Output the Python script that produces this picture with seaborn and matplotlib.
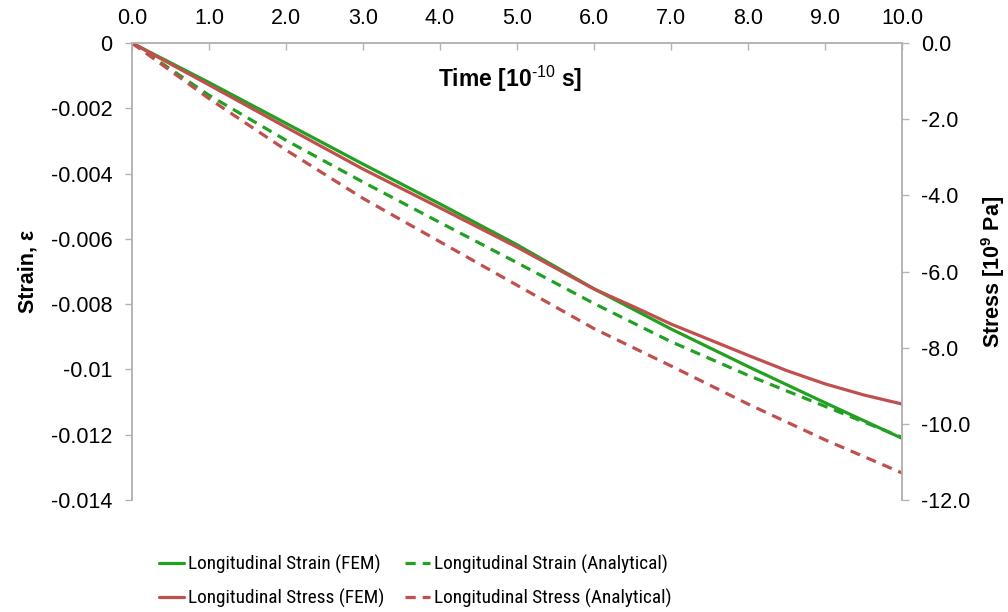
import numpy as np
import pandas as pd
import matplotlib
matplotlib.use("Agg")
import matplotlib.pyplot as plt
from matplotlib import font_manager
import seaborn as sns

# Time in units of 1e-10 s
time = [0, 1, 2, 3, 4, 5, 6, 7, 8, 9, 10]

# Longitudinal strain (left axis)
strain_fem = [0, -0.00121, -0.00246, -0.00371, -0.00493, -0.00618,
              -0.00753, -0.00876, -0.00991, -0.01102, -0.01211]
strain_analytical = [0, -0.00160, -0.00298, -0.00426, -0.00550, -0.00673,
                     -0.00798, -0.00915, -0.01018, -0.01113, -0.01208]

# Longitudinal stress in 1e9 Pa (right axis); the FEM curve is sampled
# more densely where it bends
time_fine = [0, 1, 2, 3, 4, 5, 6, 6.5, 7, 7.5, 8, 8.5, 9, 9.5, 10]
stress_fem = [0, -1.10, -2.21, -3.31, -4.33, -5.36,
              -6.46, -6.91, -7.38, -7.79, -8.20, -8.60, -8.95, -9.24, -9.48]
stress_analytical = [0, -1.46, -2.81, -4.08, -5.22, -6.36,
                     -7.50, -8.48, -9.48, -10.42, -11.29]

x_ticks = [0, 1, 2, 3, 4, 5, 6, 7, 8, 9, 10]
strain_ticks = [0, -0.002, -0.004, -0.006, -0.008, -0.010, -0.012, -0.014]
strain_tick_labels = ["0", "-0.002", "-0.004", "-0.006", "-0.008", "-0.01", "-0.012", "-0.014"]
stress_ticks = [0, -2, -4, -6, -8, -10, -12]

sns.set_theme(style="white")
plt.rcParams["font.family"] = ["Liberation Sans", "DejaVu Sans"]
plt.rcParams["mathtext.fontset"] = "custom"
plt.rcParams["mathtext.rm"] = "Liberation Sans"
plt.rcParams["mathtext.bf"] = "Liberation Sans:bold"
plt.rcParams["mathtext.default"] = "bf"
plt.rcParams["text.color"] = "black"
plt.rcParams["axes.labelcolor"] = "black"

GREEN = "#22a022"
RED = "#c0504d"
AXIS_GRAY = "#b4b4b4"
FS = 15.5

df = pd.DataFrame({
    "time": time,
    "strain_fem": strain_fem,
    "strain_analytical": strain_analytical,
    "stress_analytical": stress_analytical,
})
df_fem = pd.DataFrame({"time": time_fine, "stress_fem": stress_fem})

fig = plt.figure(figsize=(10.08, 6.12), dpi=100)
ax = fig.add_axes([132 / 1008, 1 - 500 / 612, 770 / 1008, 457 / 612])
ax2 = ax.twinx()

lw = 2.3
dash = (3.2, 2.2)
sns.lineplot(data=df, x="time", y="strain_fem", ax=ax, color=GREEN, lw=lw,
             label="Longitudinal Strain (FEM)", legend=False)
sns.lineplot(data=df, x="time", y="strain_analytical", ax=ax, color=GREEN, lw=lw,
             label="Longitudinal Strain (Analytical)", legend=False)
sns.lineplot(data=df_fem, x="time", y="stress_fem", ax=ax2, color=RED, lw=lw,
             label="Longitudinal Stress (FEM)", legend=False)
sns.lineplot(data=df, x="time", y="stress_analytical", ax=ax2, color=RED, lw=lw,
             label="Longitudinal Stress (Analytical)", legend=False)
for ln in ax.lines + ax2.lines:
    ln.set_solid_joinstyle("round")
ax.lines[1].set_dashes(dash)
ax2.lines[1].set_dashes(dash)
ax2.set_zorder(ax.get_zorder() + 1)
ax2.patch.set_visible(False)

# Axis ranges
ax.set_xlim(0, 10)
ax.set_ylim(-0.014, 0)
ax2.set_ylim(-12, 0)

# Top x axis with inward ticks
ax.xaxis.tick_top()
ax.set_xticks(x_ticks)
ax.set_xticklabels([f"{v:.1f}" for v in x_ticks])
ax.tick_params(axis="x", which="both", direction="in", length=5, width=1,
               color=AXIS_GRAY, labelcolor="black", pad=10, labelsize=FS,
               top=True, bottom=False)

ax.set_yticks(strain_ticks)
ax.set_yticklabels(strain_tick_labels)
ax.tick_params(axis="y", direction="out", length=5, width=1, color=AXIS_GRAY,
               labelcolor="black", pad=9, labelsize=FS, left=True)

ax2.set_yticks(stress_ticks)
ax2.set_yticklabels([f"{v:.1f}" for v in stress_ticks])
ax2.tick_params(axis="y", direction="out", length=5, width=1, color=AXIS_GRAY,
                labelcolor="black", pad=9, labelsize=FS, right=True)

for a in (ax, ax2):
    for side in ("left", "right", "top"):
        a.spines[side].set_visible(True)
        a.spines[side].set_color(AXIS_GRAY)
        a.spines[side].set_linewidth(1.2)
    a.spines["bottom"].set_visible(False)
    a.grid(False)

# Axis titles
ax.xaxis.set_label_position("top")
ax.set_xlabel(r"Time [10$^{\text{-10}}$ s]", fontsize=16.5, fontweight="bold")
ax.xaxis.set_label_coords(0.491, 0.905)
ax.set_ylabel("Strain, ε", fontsize=15.5, fontweight="bold")
ax.yaxis.set_label_coords(-0.122, 0.5)
ax2.set_ylabel(r"Stress [10$^{9}$ Pa]", fontsize=15.5, fontweight="bold")
ax2.yaxis.set_label_coords(1.100, 0.5)

# Legend font: prefer a narrow sans face, sized so the entries keep a compact width
installed = {f.name for f in font_manager.fontManager.ttflist}
narrow_faces = ["Liberation Sans Narrow", "Arial Narrow", "Roboto Condensed",
                "Open Sans Condensed", "DejaVu Sans Condensed"]
legend_family = next((f for f in narrow_faces if f in installed), "Liberation Sans")
renderer = fig.canvas.get_renderer()
probe = fig.text(0, 0, "Longitudinal Strain (FEM)", family=legend_family, size=14.5)
probe_w = probe.get_window_extent(renderer).width
probe.remove()
leg_size = float(np.clip(14.5 * 192 / probe_w, 13.0, 15.5))
fs_px = leg_size * 100 / 72
row_h = 0.94 * fs_px
leg_spacing = (33 - row_h) / fs_px
leg_top = 1 - (564 - row_h / 2) / 612

common = dict(loc="upper left", frameon=False,
              prop={"family": legend_family, "size": leg_size},
              handlelength=25 / fs_px, handletextpad=4 / fs_px,
              labelspacing=leg_spacing, borderpad=0, borderaxespad=0)
fig.legend([ax.lines[0], ax2.lines[0]],
           [ax.lines[0].get_label(), ax2.lines[0].get_label()],
           bbox_to_anchor=(159 / 1008, leg_top), **common)
fig.legend([ax.lines[1], ax2.lines[1]],
           [ax.lines[1].get_label(), ax2.lines[1].get_label()],
           bbox_to_anchor=(405 / 1008, leg_top), **common)

fig.savefig("out.png", dpi=100)
